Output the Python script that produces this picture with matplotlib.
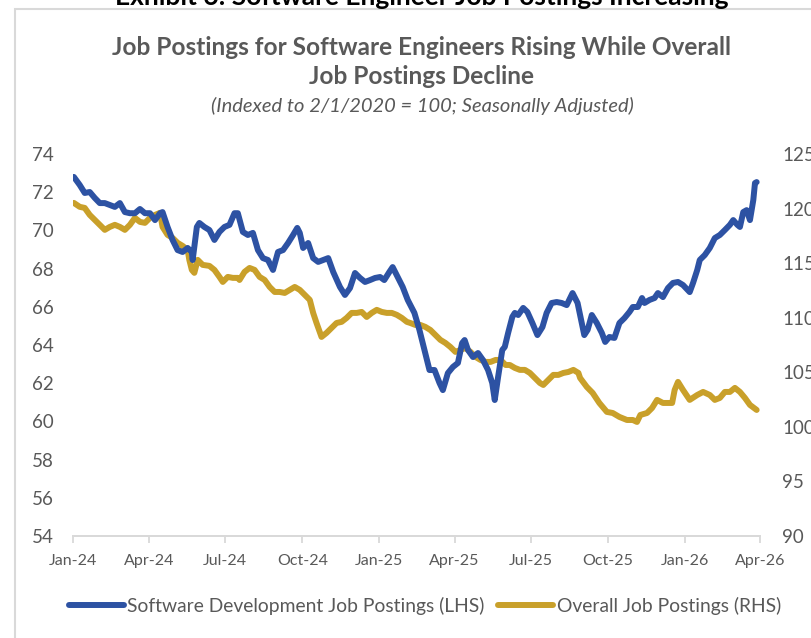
import pandas as pd
import matplotlib.pyplot as plt
import matplotlib.dates as mdates
from matplotlib.patches import Rectangle

# Software development job postings (LHS, index)
sw_dates = [
    "2024-01-02", "2024-01-09", "2024-01-15", "2024-01-21", "2024-01-27", "2024-02-02",
    "2024-02-08", "2024-02-14", "2024-02-20", "2024-02-26", "2024-03-03", "2024-03-09",
    "2024-03-15", "2024-03-21", "2024-03-27", "2024-04-02", "2024-04-08", "2024-04-14",
    "2024-04-17", "2024-04-23", "2024-04-29", "2024-05-05", "2024-05-11", "2024-05-17",
    "2024-05-22", "2024-05-23", "2024-05-28", "2024-05-31", "2024-06-06", "2024-06-12",
    "2024-06-18", "2024-06-24", "2024-06-30", "2024-07-06", "2024-07-12", "2024-07-16",
    "2024-07-22", "2024-07-28", "2024-08-03", "2024-08-09", "2024-08-15", "2024-08-21",
    "2024-08-27", "2024-09-02", "2024-09-08", "2024-09-14", "2024-09-20", "2024-09-25",
    "2024-09-28", "2024-10-02", "2024-10-08", "2024-10-14", "2024-10-20", "2024-10-26",
    "2024-11-01", "2024-11-07", "2024-11-15", "2024-11-21", "2024-11-27", "2024-12-03",
    "2024-12-09", "2024-12-15", "2024-12-21", "2024-12-27", "2025-01-02", "2025-01-07",
    "2025-01-13", "2025-01-17", "2025-01-23", "2025-01-29", "2025-02-04", "2025-02-12",
    "2025-02-18", "2025-02-24", "2025-03-02", "2025-03-08", "2025-03-14", "2025-03-18",
    "2025-03-24", "2025-03-30", "2025-04-05", "2025-04-10", "2025-04-13", "2025-04-17",
    "2025-04-23", "2025-04-29", "2025-05-05", "2025-05-11", "2025-05-16", "2025-05-19",
    "2025-05-23", "2025-05-28", "2025-05-31", "2025-06-04", "2025-06-09", "2025-06-12",
    "2025-06-16", "2025-06-22", "2025-06-27", "2025-07-03", "2025-07-09", "2025-07-15",
    "2025-07-20", "2025-07-26", "2025-08-01", "2025-08-07", "2025-08-13", "2025-08-20",
    "2025-08-26", "2025-09-03", "2025-09-07", "2025-09-12", "2025-09-18", "2025-09-24",
    "2025-09-28", "2025-10-03", "2025-10-09", "2025-10-15", "2025-10-21", "2025-10-27",
    "2025-10-31", "2025-11-06", "2025-11-11", "2025-11-14", "2025-11-20", "2025-11-26",
    "2025-11-30", "2025-12-06", "2025-12-12", "2025-12-18", "2025-12-24", "2025-12-30",
    "2026-01-07", "2026-01-11", "2026-01-16", "2026-01-19", "2026-01-25", "2026-01-31",
    "2026-02-06", "2026-02-12", "2026-02-18", "2026-02-24", "2026-02-28", "2026-03-05",
    "2026-03-08", "2026-03-12", "2026-03-16", "2026-03-20", "2026-03-24", "2026-03-26",
    "2026-03-28",
]
sw_values = [
    72.80, 72.38, 71.96, 72.01, 71.70, 71.43,
    71.43, 71.33, 71.23, 71.43, 70.96, 70.90,
    70.90, 71.12, 70.90, 70.90, 70.54, 70.90,
    70.96, 70.18, 69.50, 68.97, 68.87, 69.08,
    68.87, 68.45, 70.18, 70.39, 70.18, 70.02,
    69.50, 69.92, 70.18, 70.29, 70.90, 70.90,
    69.92, 69.76, 69.87, 68.97, 68.55, 68.45,
    67.93, 68.87, 68.97, 69.34, 69.76, 70.13,
    69.87, 69.08, 69.34, 68.55, 68.35, 68.45,
    68.55, 67.82, 67.04, 66.62, 66.98, 67.77,
    67.51, 67.30, 67.40, 67.51, 67.56, 67.40,
    67.82, 68.08, 67.56, 67.04, 66.36, 65.68,
    64.79, 63.74, 62.69, 62.69, 62.01, 61.64,
    62.53, 62.85, 63.06, 64.10, 64.26, 63.74,
    63.37, 63.58, 63.21, 62.69, 62.01, 61.12,
    62.32, 63.74, 63.90, 64.63, 65.47, 65.68,
    65.57, 65.94, 65.73, 65.15, 64.52, 64.94,
    65.68, 66.20, 66.25, 66.20, 66.09, 66.72,
    66.20, 64.52, 64.79, 65.57, 65.15, 64.63,
    64.16, 64.42, 64.37, 65.15, 65.41, 65.73,
    65.99, 65.99, 66.46, 66.20, 66.36, 66.46,
    66.72, 66.51, 66.98, 67.25, 67.30, 67.14,
    66.77, 67.25, 67.93, 68.45, 68.71, 69.08,
    69.60, 69.76, 70.02, 70.29, 70.54, 70.29,
    70.18, 70.96, 71.06, 70.54, 71.59, 72.48,
    72.53,
]

# Overall job postings (RHS, index)
all_dates = [
    "2024-01-02", "2024-01-09", "2024-01-15", "2024-01-21", "2024-01-27", "2024-02-02",
    "2024-02-08", "2024-02-14", "2024-02-20", "2024-02-26", "2024-03-03", "2024-03-09",
    "2024-03-15", "2024-03-21", "2024-03-27", "2024-04-02", "2024-04-08", "2024-04-14",
    "2024-04-17", "2024-04-23", "2024-04-29", "2024-05-05", "2024-05-11", "2024-05-17",
    "2024-05-19", "2024-05-22", "2024-05-25", "2024-05-29", "2024-06-04", "2024-06-12",
    "2024-06-18", "2024-06-24", "2024-06-28", "2024-07-04", "2024-07-10", "2024-07-16",
    "2024-07-18", "2024-07-24", "2024-07-30", "2024-08-05", "2024-08-11", "2024-08-17",
    "2024-08-23", "2024-08-29", "2024-09-04", "2024-09-10", "2024-09-16", "2024-09-22",
    "2024-09-28", "2024-10-04", "2024-10-10", "2024-10-14", "2024-10-18", "2024-10-24",
    "2024-10-30", "2024-11-05", "2024-11-11", "2024-11-17", "2024-11-23", "2024-11-29",
    "2024-12-05", "2024-12-11", "2024-12-17", "2024-12-23", "2024-12-29", "2025-01-04",
    "2025-01-10", "2025-01-16", "2025-01-22", "2025-01-28", "2025-02-03", "2025-02-07",
    "2025-02-13", "2025-02-19", "2025-02-25", "2025-03-03", "2025-03-09", "2025-03-15",
    "2025-03-21", "2025-03-27", "2025-04-02", "2025-04-08", "2025-04-14", "2025-04-20",
    "2025-04-26", "2025-05-02", "2025-05-08", "2025-05-14", "2025-05-20", "2025-05-26",
    "2025-06-01", "2025-06-06", "2025-06-12", "2025-06-18", "2025-06-24", "2025-06-30",
    "2025-07-06", "2025-07-12", "2025-07-16", "2025-07-22", "2025-07-28", "2025-08-03",
    "2025-08-09", "2025-08-15", "2025-08-21", "2025-08-27", "2025-08-29", "2025-09-06",
    "2025-09-13", "2025-09-21", "2025-09-30", "2025-10-07", "2025-10-15", "2025-10-24",
    "2025-10-31", "2025-11-05", "2025-11-09", "2025-11-17", "2025-11-23", "2025-11-29",
    "2025-12-06", "2025-12-17", "2025-12-20", "2025-12-24", "2025-12-30", "2026-01-07",
    "2026-01-16", "2026-01-23", "2026-01-31", "2026-02-06", "2026-02-12", "2026-02-18",
    "2026-02-24", "2026-03-02", "2026-03-08", "2026-03-14", "2026-03-20", "2026-03-28",
]
all_values = [
    120.52, 120.16, 120.06, 119.42, 118.96, 118.51,
    118.05, 118.32, 118.51, 118.32, 118.05, 118.51,
    119.15, 118.78, 118.69, 119.15, 119.42, 119.61,
    118.32, 117.59, 117.31, 116.86, 116.58, 116.21,
    115.30, 114.38, 114.11, 115.30, 114.84, 114.75,
    114.38, 113.74, 113.28, 113.74, 113.65, 113.65,
    113.46, 114.20, 114.56, 114.38, 113.74, 113.46,
    112.82, 112.36, 112.36, 112.27, 112.55, 112.82,
    112.55, 112.09, 111.63, 110.44, 109.52, 108.24,
    108.61, 109.07, 109.52, 109.62, 109.98, 110.44,
    110.44, 110.53, 110.07, 110.44, 110.72, 110.53,
    110.44, 110.44, 110.26, 109.98, 109.62, 109.52,
    109.34, 109.34, 109.16, 108.88, 108.42, 107.97,
    107.69, 107.32, 106.87, 107.05, 107.23, 106.87,
    106.41, 106.13, 105.95, 105.95, 106.13, 106.13,
    105.67, 105.67, 105.40, 105.22, 105.22, 104.94,
    104.48, 104.02, 103.84, 104.30, 104.76, 104.76,
    104.94, 105.03, 105.22, 104.94, 104.48, 103.66,
    103.11, 102.19, 101.37, 101.27, 100.91, 100.63,
    100.63, 100.45, 101.09, 101.27, 101.73, 102.47,
    102.19, 102.19, 103.38, 104.12, 103.38, 102.47,
    102.92, 103.20, 102.92, 102.47, 102.65, 103.20,
    103.20, 103.57, 103.20, 102.65, 102.01, 101.55,
]

blue = "#2D52A3"
gold = "#C9A02A"
grey = "#595959"

plt.rcParams["font.family"] = ["Lato", "DejaVu Sans"]

fig = plt.figure(figsize=(8.12, 6.38), dpi=100)

# outer frame of the exhibit
fig.patches.append(Rectangle((15 / 812, -0.05), 1.0, 1 - 9 / 638 + 0.05,
                             transform=fig.transFigure, fill=False,
                             edgecolor="#d9d9d9", linewidth=1.5))

cx = 422 / 812
fig.text(cx, 1.004, "Exhibit 6: Software Engineer Job Postings Increasing",
         ha="center", va="center", fontsize=19, fontweight="bold", color="black")
fig.text(cx, 1 - 62 / 638, "Job Postings for Software Engineers Rising While Overall\nJob Postings Decline",
         ha="center", va="center", fontsize=17.6, fontweight="bold", color=grey,
         linespacing=1.35)
fig.text(cx, 1 - 106 / 638, "(Indexed to 2/1/2020 = 100; Seasonally Adjusted)",
         ha="center", va="center", fontsize=14.5, style="italic", color=grey)

ax = fig.add_axes([73 / 812, 1 - 536 / 638, (760 - 73) / 812, (536 - 154) / 638])
ax2 = ax.twinx()

l1, = ax.plot(pd.to_datetime(sw_dates), sw_values, color=blue, lw=4.3,
              solid_capstyle="round", solid_joinstyle="round", zorder=3,
              label="Software Development Job Postings (LHS)")
l2, = ax2.plot(pd.to_datetime(all_dates), all_values, color=gold, lw=4.3,
               solid_capstyle="round", solid_joinstyle="round", zorder=2,
               label="Overall Job Postings (RHS)")
ax.set_zorder(ax2.get_zorder() + 1)
ax.patch.set_visible(False)

ax.set_xlim(pd.Timestamp("2024-01-01"), pd.Timestamp("2026-04-01"))
ax.set_ylim(54, 74)
ax.set_yticks(range(54, 75, 2))
ax2.set_ylim(90, 125)
ax2.set_yticks(range(90, 126, 5))

ax.xaxis.set_major_locator(mdates.MonthLocator(bymonth=[1, 4, 7, 10]))
ax.xaxis.set_major_formatter(mdates.DateFormatter("%b-%y"))

for a in (ax, ax2):
    for s in ("top", "left", "right"):
        a.spines[s].set_visible(False)
    a.spines["bottom"].set_color("#d9d9d9")
    a.spines["bottom"].set_linewidth(1.3)
    a.tick_params(axis="y", length=0, labelsize=13.5, labelcolor=grey)

ax.tick_params(axis="y", pad=14)
ax2.tick_params(axis="y", pad=16)
ax.tick_params(axis="x", length=5, width=1.3, color="#d9d9d9",
               labelsize=11.5, labelcolor=grey, pad=8)

leg = fig.legend(handles=[l1, l2], loc="center", bbox_to_anchor=(425 / 812, 1 - 606 / 638),
                 ncol=2, frameon=False, fontsize=13.9, handlelength=2.85,
                 handletextpad=0.2, columnspacing=0.7)
for t in leg.get_texts():
    t.set_color(grey)

fig.savefig("out.png", dpi=100)
